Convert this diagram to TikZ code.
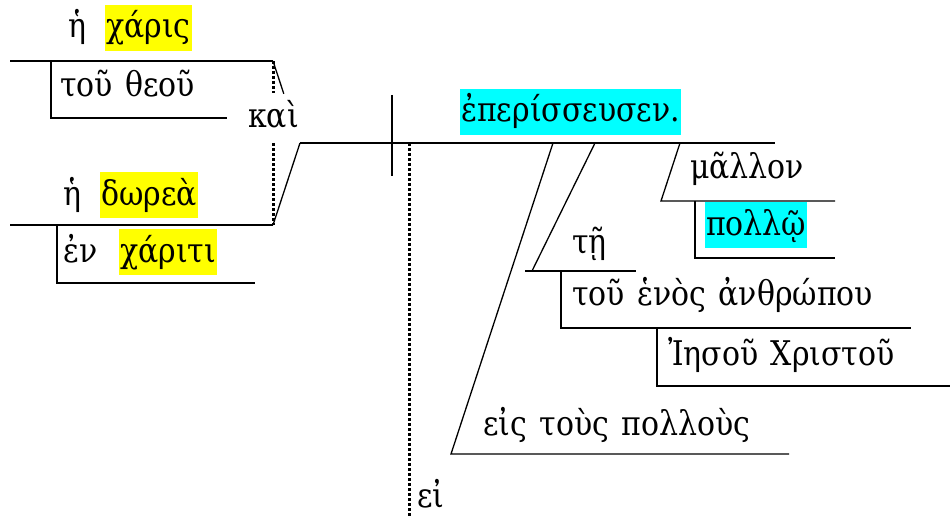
\documentclass[tikz,border=0pt]{standalone}
\usepackage{fontspec}
\setmainfont[WordSpace=1.3,FakeStretch=0.88]{DejaVu Serif}
\usetikzlibrary{calc}
\definecolor{hly}{RGB}{255,255,0}
\definecolor{hlc}{RGB}{0,255,255}
\begin{document}
\begin{tikzpicture}[x=1pt,y=-1pt,
  ln/.style={line width=1.3pt},
  dotline/.style={line width=3pt, dash pattern=on 3pt off 2pt},
  wd/.style={anchor=base west, inner sep=0pt, font=\fontsize{34}{38}\selectfont},
  hl/.style={wd, inner xsep=1pt, text height=33pt, text depth=13pt}]
\useasboundingbox (0,0) rectangle (950,516);
% ---------- coordinates ----------
\coordinate (a1) at (10,61);   \coordinate (a2) at (273,61);
\coordinate (m1t) at (51,61);  \coordinate (m1b) at (51,118);  \coordinate (m1e) at (227,118);
\coordinate (b1) at (10,225);  \coordinate (b2) at (273,225);
\coordinate (m2t) at (57,225); \coordinate (m2b) at (57,283);  \coordinate (m2e) at (255,283);
\coordinate (j) at (300,143);  \coordinate (me) at (775,143);
\coordinate (dvt) at (392,95); \coordinate (dvb) at (392,176);
\coordinate (dot1) at (409,143); \coordinate (dot2) at (409,516);
\coordinate (gapt) at (273,93); \coordinate (gapb) at (273,143);
\coordinate (s1t) at (553,143); \coordinate (s1b) at (451,454); \coordinate (s1e) at (789,454);
\coordinate (s2t) at (595,143); \coordinate (s2b) at (532,271);
\coordinate (t1) at (525,271);  \coordinate (t2) at (636,271);
\coordinate (v1t) at (561,271); \coordinate (v1b) at (561,328); \coordinate (v1e) at (911,328);
\coordinate (v2t) at (657,328); \coordinate (v2b) at (657,386); \coordinate (v2e) at (950,386);
\coordinate (s3t) at (680,143); \coordinate (s3b) at (661,201); \coordinate (s3e) at (835,201);
\coordinate (v3t) at (695,201); \coordinate (v3b) at (695,258); \coordinate (v3e) at (835,258);
% ---------- lines ----------
\draw[ln] (a1) -- (a2);
\draw[ln] (m1t) -- (m1b) -- (m1e);
\draw[ln] (b1) -- (b2);
\draw[ln] (m2t) -- (m2b) -- (m2e);
\draw[dotline] (a2) -- (gapt);
\draw[dotline] (gapb) -- (b2);
\draw[ln] (a2) -- ($(a2)!0.4!(j)$);
\draw[ln] (b2) -- (j);
\draw[ln] (j) -- (me);
\draw[ln] (dvt) -- (dvb);
\draw[dotline] (dot1) -- (dot2);
\draw[ln] (s1t) -- (s1b) -- (s1e);
\draw[ln] (s2t) -- (s2b);
\draw[ln] (t1) -- (t2);
\draw[ln] (v1t) -- (v1b) -- (v1e);
\draw[ln] (v2t) -- (v2b) -- (v2e);
\draw[ln] (s3t) -- (s3b) -- (s3e);
\draw[ln] (v3t) -- (v3b) -- (v3e);
% ---------- words ----------
\node[wd] (w1a) at (68,38) {ἡ};
\node[hl, fill=hly] (w1b) at (105,38) {χάρις};
\node[wd] (w2) at (60,97) {τοῦ θεοῦ};
\node[wd] (kai) at (248,128) {καὶ};
\node[wd] (w3a) at (63,205) {ἡ};
\node[hl, fill=hly] (w3b) at (100,205) {δωρεὰ};
\node[wd] (w4a) at (63,262) {ἐν};
\node[hl, fill=hly] (w4b) at (119,262) {χάριτι};
\node[hl, fill=hlc] (verb) at (460,122) {ἐπερίσσευσεν.};
\node[wd] (mal) at (690,178) {μᾶλλον};
\node[hl, fill=hlc] (pol) at (705,235) {πολλῷ};
\node[wd] (th) at (572,253) {τῇ};
\node[wd] (anth) at (572,305) {τοῦ ἑνὸς ἀνθρώπου};
\node[wd] (iesou) at (668,365) {Ἰησοῦ Χριστοῦ};
\node[wd] (eis) at (483,435) {εἰς τοὺς πολλοὺς};
\node[wd] (ei) at (417,507) {εἰ};
\end{tikzpicture}
\end{document}
